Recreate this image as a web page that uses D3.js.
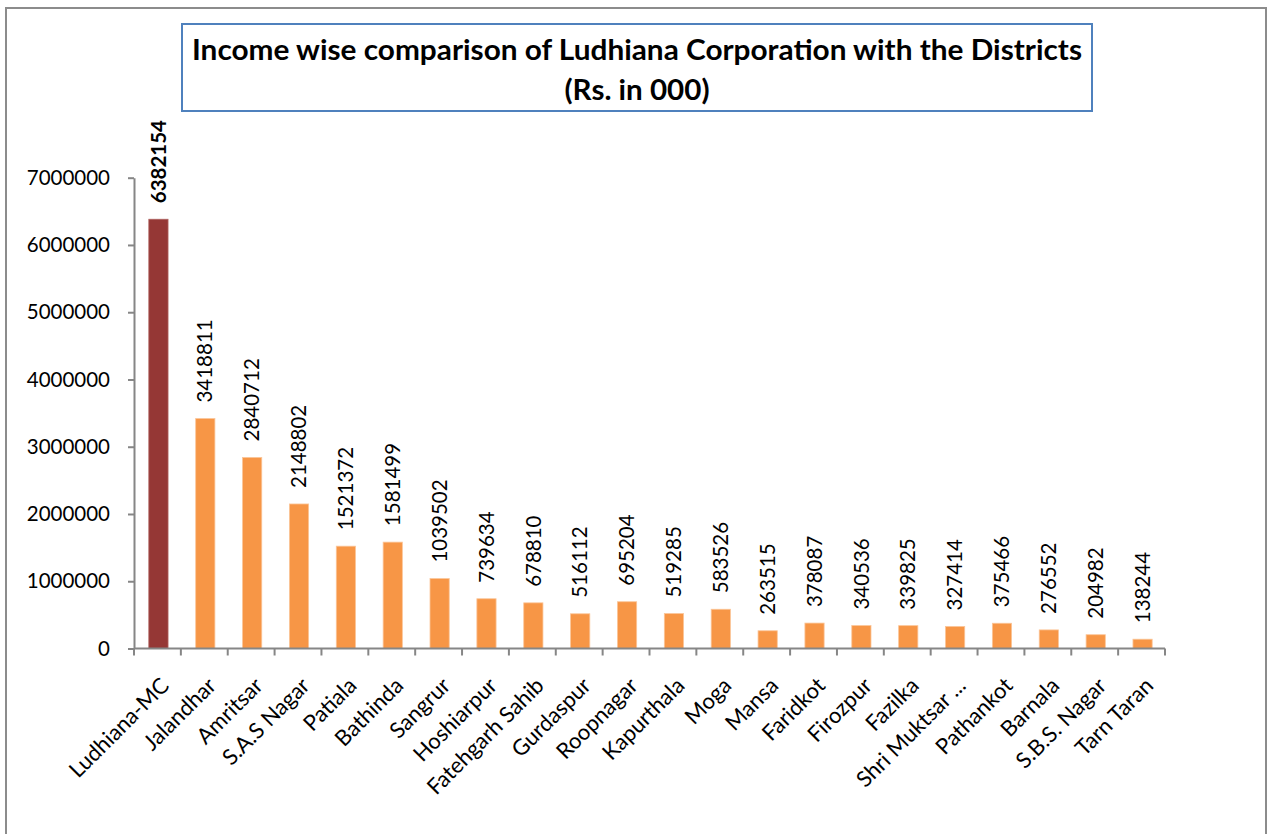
<!DOCTYPE html>
<html>
<head>
<meta charset="utf-8">
<script src="https://cdn.jsdelivr.net/npm/d3@7"></script>
<style>
  body { margin: 0; background: #fff; }
  svg text { font-family: Lato, "Open Sans", sans-serif; fill: #000; }
</style>
</head>
<body>
<div id="chart"></div>
<script>
const districts = ['Ludhiana-MC', 'Jalandhar', 'Amritsar', 'S.A.S Nagar', 'Patiala', 'Bathinda',
  'Sangrur', 'Hoshiarpur', 'Fatehgarh Sahib', 'Gurdaspur', 'Roopnagar', 'Kapurthala', 'Moga',
  'Mansa', 'Faridkot', 'Firozpur', 'Fazilka', 'Shri Muktsar ...', 'Pathankot', 'Barnala',
  'S.B.S. Nagar', 'Tarn Taran'];
const income = [6382154, 3418811, 2840712, 2148802, 1521372, 1581499, 1039502, 739634, 678810,
  516112, 695204, 519285, 583526, 263515, 378087, 340536, 339825, 327414, 375466, 276552,
  204982, 138244];
const yTicks = [0, 1000000, 2000000, 3000000, 4000000, 5000000, 6000000, 7000000];
const titleLines = ['Income wise comparison of Ludhiana Corporation with the Districts', '(Rs. in 000)'];

const width = 1268, height = 834;
const plot = { left: 134, right: 1165, top: 177.7, bottom: 648.5 };
const axisColor = '#868686';

const dataset = districts.map((d, i) => ({ district: d, value: income[i], main: i === 0 }));

const svg = d3.select('#chart')
              .append('svg')
              .attr('width', width)
              .attr('height', height);

// outer frame
svg.append('rect')
   .attr('x', 6)
   .attr('y', 8)
   .attr('width', 1260)
   .attr('height', 840)
   .attr('fill', 'none')
   .attr('stroke', '#8c8c8c')
   .attr('stroke-width', 2);

// title box
svg.append('rect')
   .attr('x', 182)
   .attr('y', 24)
   .attr('width', 910)
   .attr('height', 87)
   .attr('fill', '#fff')
   .attr('stroke', '#4f81bd')
   .attr('stroke-width', 2);

svg.append('text')
   .attr('x', 637)
   .attr('y', 60)
   .attr('text-anchor', 'middle')
   .attr('font-weight', 'bold')
   .attr('font-size', 29)
   .attr('textLength', 890)
   .attr('lengthAdjust', 'spacingAndGlyphs')
   .text(titleLines[0]);

svg.append('text')
   .attr('x', 637)
   .attr('y', 100)
   .attr('text-anchor', 'middle')
   .attr('font-weight', 'bold')
   .attr('font-size', 29)
   .attr('textLength', 145)
   .attr('lengthAdjust', 'spacingAndGlyphs')
   .text(titleLines[1]);

let x = d3.scaleBand()
          .domain(districts)
          .range([plot.left, plot.right])
          .padding(0);

let y = d3.scaleLinear()
          .domain([0, 7000000])
          .range([plot.bottom, plot.top]);

// y-axis
let yAxis = svg.append('g')
               .attr('transform', `translate(${plot.left}, 0)`)
               .call(d3.axisLeft(y)
                       .tickValues(yTicks)
                       .tickSize(6)
                       .tickSizeOuter(0)
                       .tickPadding(18)
                       .tickFormat(d3.format('d')));
yAxis.select('.domain').attr('stroke', axisColor).attr('stroke-width', 2);
yAxis.selectAll('.tick line').attr('stroke', axisColor).attr('stroke-width', 2);
yAxis.selectAll('.tick text')
     .attr('font-size', 20.5)
     .attr('font-family', 'Lato, sans-serif');

// bars
const barWidth = x.bandwidth() * 0.41;
svg.append('g')
   .selectAll('rect')
   .data(dataset)
   .enter()
   .append('rect')
   .attr('x', d => x(d.district) + (x.bandwidth() - barWidth) / 2 + 1)
   .attr('y', d => y(d.value))
   .attr('width', barWidth)
   .attr('height', d => plot.bottom - y(d.value))
   .attr('fill', d => d.main ? '#953735' : '#f79646')
   .attr('stroke', d => d.main ? '#b06260' : '#fbc598')
   .attr('stroke-width', 0.8);

// x-axis line and ticks at band edges
let xAxis = svg.append('g');
xAxis.append('line')
     .attr('x1', plot.left)
     .attr('x2', plot.right)
     .attr('y1', plot.bottom)
     .attr('y2', plot.bottom)
     .attr('stroke', axisColor)
     .attr('stroke-width', 2);
xAxis.selectAll('line.tick')
     .data(districts.map(d => x(d)).concat([plot.right]))
     .enter()
     .append('line')
     .attr('class', 'tick')
     .attr('x1', d => d)
     .attr('x2', d => d)
     .attr('y1', plot.bottom)
     .attr('y2', plot.bottom + 7)
     .attr('stroke', axisColor)
     .attr('stroke-width', 2);

// category labels
svg.append('g')
   .selectAll('text')
   .data(dataset)
   .enter()
   .append('text')
   .attr('text-anchor', 'end')
   .attr('font-size', 22)
   .attr('transform', d => `translate(${x(d.district) + x.bandwidth() / 2 + 13}, 687) rotate(-45)`)
   .text(d => d.district);

// value labels
svg.append('g')
   .selectAll('text')
   .data(dataset)
   .enter()
   .append('text')
   .attr('text-anchor', 'start')
   .attr('font-size', 20.5)
   .attr('font-weight', d => d.main ? 'bold' : 'normal')
   .attr('dy', '0.35em')
   .attr('transform', d => `translate(${x(d.district) + x.bandwidth() / 2 + 1}, ${y(d.value) - 16}) rotate(-90)`)
   .text(d => d.value);
</script>
</body>
</html>
